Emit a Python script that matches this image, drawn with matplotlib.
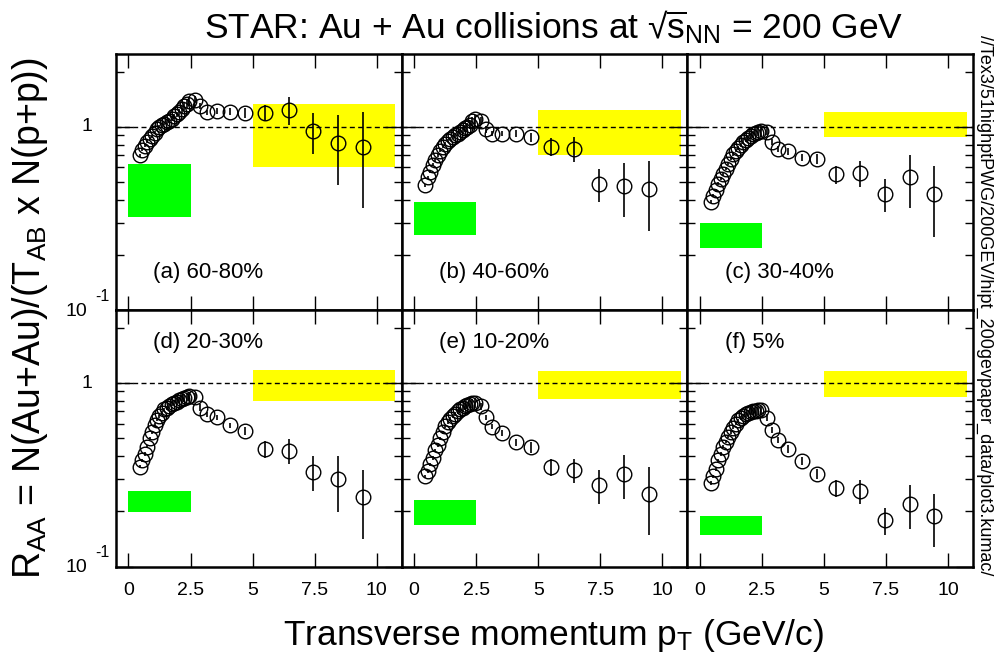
import numpy as np
import matplotlib.pyplot as plt

plt.rcParams['font.family'] = ['Liberation Sans', 'DejaVu Sans']
plt.rcParams['mathtext.fontset'] = 'custom'
plt.rcParams['mathtext.rm'] = 'Liberation Sans'
plt.rcParams['mathtext.it'] = 'Liberation Sans:italic'
plt.rcParams['mathtext.bf'] = 'Liberation Sans:bold'

# pT bin centres (GeV/c): fine bins below 2.5, coarse bins above
pt_low = [0.45, 0.55, 0.65, 0.75, 0.85, 0.95, 1.05, 1.15, 1.25, 1.35, 1.45,
          1.55, 1.65, 1.75, 1.85, 1.95, 2.05, 2.15, 2.25, 2.35, 2.45]
pt_high = [2.7, 2.9, 3.15, 3.55, 4.1, 4.7, 5.5, 6.45, 7.45, 8.45, 9.45]

# relative stat. errors of the fine bins
lowpt_rel_err = [0.02, 0.02, 0.02, 0.02, 0.02, 0.02, 0.02, 0.02, 0.02, 0.02, 0.02,
                 0.025, 0.025, 0.03, 0.03, 0.035, 0.04, 0.045, 0.05, 0.055, 0.06]

labels = ['(a) 60-80%', '(b) 40-60%', '(c) 30-40%',
          '(d) 20-30%', '(e) 10-20%', '(f) 5%']

raa_low = {
    'a': [0.70, 0.75, 0.79, 0.83, 0.86, 0.89, 0.93, 0.97, 1.00, 1.02, 1.04,
          1.06, 1.08, 1.11, 1.14, 1.17, 1.21, 1.25, 1.30, 1.34, 1.38],
    'b': [0.48, 0.53, 0.57, 0.62, 0.66, 0.70, 0.74, 0.78, 0.81, 0.84, 0.86,
          0.88, 0.90, 0.92, 0.94, 0.96, 0.98, 1.00, 1.03, 1.07, 1.10],
    'c': [0.39, 0.42, 0.45, 0.49, 0.52, 0.55, 0.59, 0.63, 0.67, 0.71, 0.74,
          0.77, 0.80, 0.83, 0.85, 0.87, 0.89, 0.91, 0.93, 0.94, 0.95],
    'd': [0.35, 0.38, 0.41, 0.45, 0.50, 0.54, 0.59, 0.63, 0.66, 0.69, 0.72,
          0.73, 0.75, 0.77, 0.78, 0.79, 0.81, 0.82, 0.83, 0.84, 0.845],
    'e': [0.31, 0.33, 0.36, 0.39, 0.43, 0.46, 0.50, 0.54, 0.58, 0.61, 0.64,
          0.66, 0.68, 0.70, 0.72, 0.73, 0.745, 0.755, 0.765, 0.775, 0.78],
    'f': [0.285, 0.31, 0.34, 0.38, 0.41, 0.45, 0.48, 0.51, 0.54, 0.57, 0.60,
          0.625, 0.645, 0.66, 0.675, 0.685, 0.695, 0.70, 0.705, 0.71, 0.71],
}
raa_high = {
    'a': [1.41, 1.30, 1.20, 1.22, 1.21, 1.19, 1.19, 1.24, 0.95, 0.82, 0.78],
    'b': [1.08, 0.97, 0.92, 0.92, 0.92, 0.88, 0.78, 0.76, 0.49, 0.477, 0.46],
    'c': [0.94, 0.83, 0.76, 0.735, 0.68, 0.67, 0.55, 0.56, 0.43, 0.53, 0.43],
    'd': [0.84, 0.735, 0.676, 0.652, 0.589, 0.548, 0.437, 0.428, 0.328, 0.298, 0.239],
    'e': [0.745, 0.652, 0.579, 0.537, 0.475, 0.448, 0.347, 0.335, 0.277, 0.319, 0.248],
    'f': [0.648, 0.555, 0.489, 0.437, 0.377, 0.319, 0.268, 0.258, 0.179, 0.220, 0.188],
}
err_high = {
    'a': [0.06, 0.05, 0.04, 0.04, 0.05, 0.07, 0.12, 0.21, 0.235, 0.34, 0.42],
    'b': [0.05, 0.04, 0.03, 0.03, 0.04, 0.05, 0.09, 0.12, 0.10, 0.157, 0.19],
    'c': [0.04, 0.03, 0.03, 0.03, 0.03, 0.04, 0.06, 0.088, 0.088, 0.17, 0.18],
    'd': [0.04, 0.03, 0.02, 0.02, 0.02, 0.03, 0.048, 0.066, 0.07, 0.10, 0.098],
    'e': [0.03, 0.02, 0.02, 0.02, 0.02, 0.03, 0.037, 0.049, 0.057, 0.087, 0.099],
    'f': [0.03, 0.02, 0.02, 0.02, 0.02, 0.02, 0.028, 0.039, 0.03, 0.059, 0.06],
}

# normalisation uncertainty (green, low pT) and Ncoll uncertainty (yellow, high pT)
green_band = {'a': (0.32, 0.63), 'b': (0.257, 0.388), 'c': (0.219, 0.299),
              'd': (0.198, 0.257), 'e': (0.168, 0.23), 'f': (0.148, 0.188)}
yellow_band = {'a': (0.60, 1.34), 'b': (0.705, 1.23), 'c': (0.877, 1.20),
               'd': (0.793, 1.18), 'e': (0.82, 1.17), 'f': (0.834, 1.16)}

fig = plt.figure(figsize=(9.96, 6.64), dpi=100)

left, right = 116 / 996, 973 / 996
w = (right - left) / 3
row_bottom = [1 - 310 / 664, 1 - 566.5 / 664]
row_height = [256 / 664, 256.5 / 664]

keys = ['a', 'b', 'c', 'd', 'e', 'f']
for i, k in enumerate(keys):
    row, col = divmod(i, 3)
    ax = fig.add_axes([left + col * w, row_bottom[row], w, row_height[row]])
    ax.set_yscale('log')
    ax.set_xlim(-0.5, 11)
    ax.set_ylim(0.1, 2.5)

    ax.fill_between([0, 2.5], *green_band[k], color='#00ff00', lw=0, zorder=1)
    ax.fill_between([5, 10.75], *yellow_band[k], color='#ffff00', lw=0, zorder=1)
    ax.axhline(1, color='k', lw=1.0, ls=(0, (3.6, 2.4)), zorder=2)

    pt = pt_low + pt_high
    raa = raa_low[k] + raa_high[k]
    err = [v * e for v, e in zip(raa_low[k], lowpt_rel_err)] + err_high[k]
    ax.errorbar(pt, raa, yerr=err, fmt='o', mfc='none', mec='k', ms=10.5,
                mew=1.0, ecolor='k', elinewidth=1.2, capsize=0, zorder=3)

    ax.text(1.0, 0.16 if row == 0 else 1.66, labels[i], fontsize=16,
            ha='left', va='center')

    for s in ax.spines.values():
        s.set_linewidth(1.8)

    ax.set_xticks([0, 2.5, 5, 7.5, 10])
    if row == 1:
        ax.set_xticklabels(['0', '2.5', '5', '7.5', '10'])
    else:
        ax.set_xticklabels([])
    ax.set_yticks([0.1, 1])
    ax.set_yticks([0.2, 0.3, 0.4, 0.5, 0.6, 0.7, 0.8, 0.9, 2], minor=True)
    ax.set_yticklabels([])
    ax.set_yticklabels([], minor=True)
    ax.tick_params(axis='x', which='major', direction='in', top=True,
                   length=10, width=1.0, labelsize=14, pad=11)
    ax.tick_params(axis='y', which='major', direction='in', right=True,
                   length=12, width=1.0)
    ax.tick_params(axis='y', which='minor', direction='in', right=True,
                   length=6, width=1.0)

    if col == 0:
        tr = ('axes fraction', 'data')
        ax.annotate('1', xy=(0, 1), xycoords=tr, xytext=(-17, 0),
                    textcoords='offset points', ha='right', va='center',
                    fontsize=14)
        ax.annotate('10', xy=(0, 0.1), xycoords=tr, xytext=(-21, -1),
                    textcoords='offset points', ha='right', va='center',
                    fontsize=14)
        ax.annotate('-1', xy=(0, 0.1), xycoords=tr, xytext=(-15, 10),
                    textcoords='offset points', ha='left', va='center',
                    fontsize=11.5)

fig.text(554 / 996, 1 - 27 / 664,
         'STAR: Au + Au collisions at \u221A' + r'$\overline{\mathrm{s}}_{\mathrm{NN}}$ = 200 GeV',
         fontsize=25.5, ha='center', va='center')
fig.text(554 / 996, 1 - 635 / 664,
         r'Transverse momentum p$_{\mathrm{T}}$ (GeV/c)',
         fontsize=25.5, ha='center', va='center')
fig.text(30 / 996, 1 - 318 / 664,
         r'R$_{\mathrm{AA}}$ = N(Au+Au)/(T$_{\mathrm{AB}}$ x N(p+p))',
         fontsize=27, rotation=90, ha='center', va='center')
fig.text(985 / 996, 1 - 35 / 664,
         '//Tex3/51highptPWG/200GEV/hipt_200gevpaper_data/plot3.kumac/',
         fontsize=13, rotation=270, ha='center', va='top')

fig.savefig('out.png', dpi=100)
